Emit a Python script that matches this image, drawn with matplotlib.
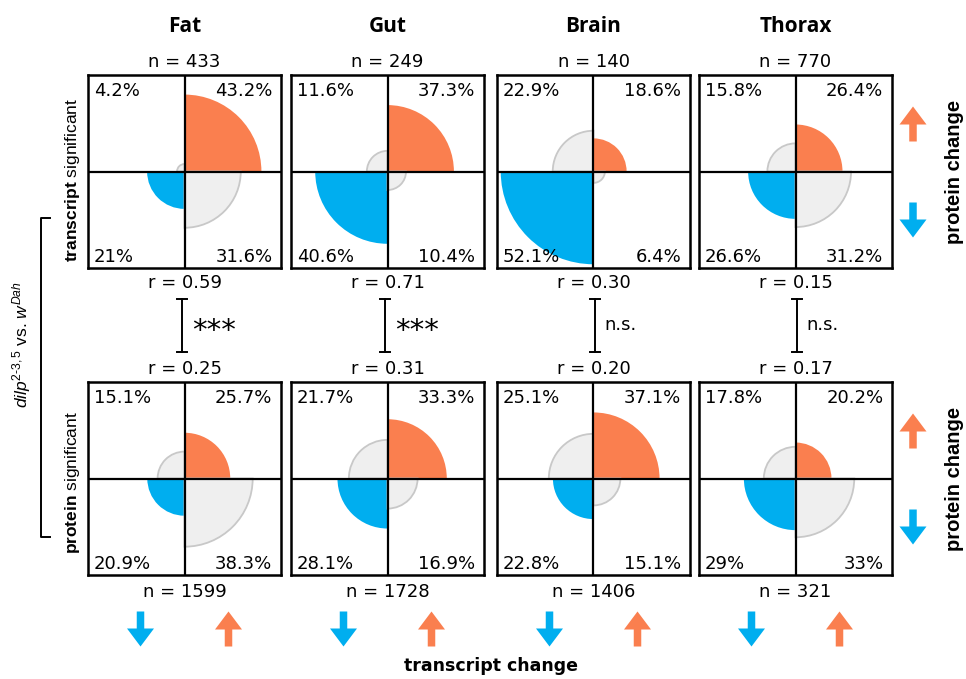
import matplotlib.pyplot as plt
from matplotlib.patches import Wedge

plt.rcParams["font.family"] = ["DejaVu Sans"]
plt.rcParams["mathtext.fontset"] = "custom"
plt.rcParams["mathtext.rm"] = "Liberation Sans"
plt.rcParams["mathtext.it"] = "Liberation Sans:italic"
plt.rcParams["mathtext.bf"] = "Liberation Sans:bold"

tissues = ["Fat", "Gut", "Brain", "Thorax"]
# percentages per quadrant: [upper-left, upper-right, lower-left, lower-right]
tx_pct = [[4.2, 43.2, 21, 31.6],
          [11.6, 37.3, 40.6, 10.4],
          [22.9, 18.6, 52.1, 6.4],
          [15.8, 26.4, 26.6, 31.2]]
pr_pct = [[15.1, 25.7, 20.9, 38.3],
          [21.7, 33.3, 28.1, 16.9],
          [25.1, 37.1, 22.8, 15.1],
          [17.8, 20.2, 29, 33]]
tx_n = [433, 249, 140, 770]
pr_n = [1599, 1728, 1406, 321]
tx_r = [0.59, 0.71, 0.30, 0.15]
pr_r = [0.25, 0.31, 0.20, 0.17]
sig = ["***", "***", "n.s.", "n.s."]

ORANGE = "#FA7F4F"
BLUE = "#00AEEF"
GREY = "#EFEFEF"
GREY_EDGE = "#C8C8C8"
FS = 13
LIB = ["Liberation Sans", "DejaVu Sans"]

W, H = 966, 679
fig = plt.figure(figsize=(W / 100, H / 100), dpi=100)

# overlay axes in pixel units for labels, brackets and arrows
ov = fig.add_axes([0, 0, 1, 1])
ov.set_xlim(0, W)
ov.set_ylim(H, 0)
ov.axis("off")

col_x = [88, 291, 497, 699]
row_y = [75, 382]
size = 193
half = 54.2  # axis half-range in percent units

quad = [(90, 180, GREY, True), (0, 90, ORANGE, False),
        (180, 270, BLUE, False), (270, 360, GREY, True)]


def panel(x0, y0, pcts):
    ax = fig.add_axes([x0 / W, 1 - (y0 + size) / H, size / W, size / H])
    ax.set_xlim(-half, half)
    ax.set_ylim(-half, half)
    ax.set_xticks([])
    ax.set_yticks([])
    for s in ax.spines.values():
        s.set_linewidth(1.8)
    for v, (t1, t2, c, grey) in zip(pcts, quad):
        ax.add_patch(Wedge((0, 0), v, t1, t2, facecolor=c,
                           edgecolor=GREY_EDGE if grey else "none",
                           lw=1.3 if grey else 0))
    ax.axhline(0, color="black", lw=1.6)
    ax.axvline(0, color="black", lw=1.6)
    lbl = [f"{v:g}%" for v in pcts]
    kw = dict(fontsize=FS, transform=ax.transAxes, va="center")
    ax.text(0.03, 0.915, lbl[0], ha="left", **kw)
    ax.text(0.955, 0.915, lbl[1], ha="right", **kw)
    ax.text(0.03, 0.055, lbl[2], ha="left", **kw)
    ax.text(0.955, 0.055, lbl[3], ha="right", **kw)


def arrow(x, y, up, color):
    dy = -35 if up else 35
    ov.arrow(x, y - dy / 2, 0, dy, width=7.5, head_width=27, head_length=18,
             length_includes_head=True, color=color, lw=0)


for i, t in enumerate(tissues):
    cx = col_x[i] + size / 2
    panel(col_x[i], row_y[0], tx_pct[i])
    panel(col_x[i], row_y[1], pr_pct[i])
    ov.text(cx, 27, t, ha="center", va="center", fontsize=15,
            fontweight="bold", family=["Open Sans", "DejaVu Sans"])
    ov.text(cx, 62, f"n = {tx_n[i]}", ha="center", va="center", fontsize=FS)
    ov.text(cx, 592, f"n = {pr_n[i]}", ha="center", va="center", fontsize=FS)
    ov.text(cx, 283, f"r = {tx_r[i]:.2f}", ha="center", va="center", fontsize=FS)
    ov.text(cx, 369, f"r = {pr_r[i]:.2f}", ha="center", va="center", fontsize=FS)
    # significance bracket between the two correlations
    bx = cx - 3 if sig[i] == "***" else cx + 1
    ov.plot([bx, bx], [299, 352], color="black", lw=1.4)
    ov.plot([bx - 5, bx + 5], [299, 299], color="black", lw=1.4)
    ov.plot([bx - 5, bx + 5], [352, 352], color="black", lw=1.4)
    if sig[i] == "***":
        ov.text(bx + 11, 339, sig[i], ha="left", va="baseline", fontsize=21)
    else:
        ov.text(bx + 10, 325, sig[i], ha="left", va="center", fontsize=FS)
    arrow(cx - 44, 629, False, BLUE)
    arrow(cx + 44, 629, True, ORANGE)

# right side protein arrows
for yc in (row_y[0], row_y[1]):
    arrow(913, yc + 49, True, ORANGE)
    arrow(913, yc + 145, False, BLUE)
    ov.text(955, yc + size / 2, "protein change", rotation=90, ha="center",
            va="center", fontsize=14.5, fontweight="bold", family=LIB)

ov.text(491, 666, "transcript change", ha="center", va="center",
        fontsize=12.5, fontweight="bold")

ov.text(73, row_y[0] + size / 2 + 8, r"$\mathbf{transcript}$ significant",
        rotation=90, ha="center", va="center", fontsize=12.5, family=LIB)
ov.text(73, row_y[1] + size / 2 + 4, r"$\mathbf{protein}$ significant",
        rotation=90, ha="center", va="center", fontsize=12.5, family=LIB)

# genotype bracket
ov.plot([50, 41, 41, 50], [218, 218, 537, 537], color="black", lw=1.4)
ov.text(22, 345, r"$dilp^{\mathrm{2\text{-}3,5}}$ vs. $w^{Dah}$", rotation=90,
        ha="center", va="center", fontsize=12.5, family=LIB)

fig.savefig("out.png", dpi=100)
